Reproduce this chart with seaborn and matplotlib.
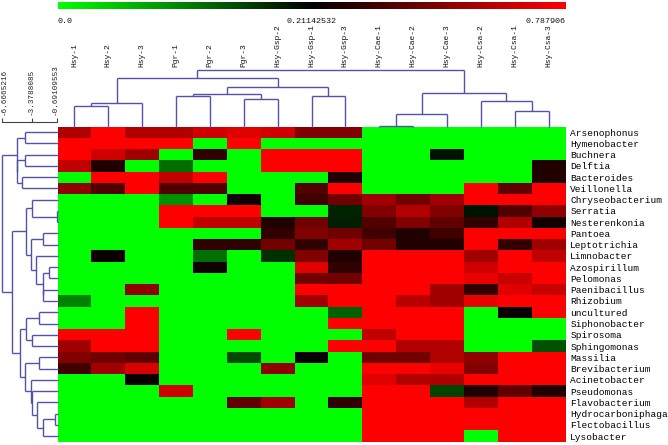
import numpy as np
import pandas as pd
import matplotlib
matplotlib.use('Agg')
import matplotlib.pyplot as plt
import matplotlib.transforms as mtransforms
import seaborn as sns
from matplotlib.colors import LinearSegmentedColormap, TwoSlopeNorm

samples = ['Hsy-1', 'Hsy-2', 'Hsy-3', 'Pgr-1', 'Pgr-2', 'Pgr-3', 'Hsy-Gsp-2', 'Hsy-Gsp-1',
           'Hsy-Gsp-3', 'Hsy-Cae-1', 'Hsy-Cae-2', 'Hsy-Cae-3', 'Hsy-Csa-2', 'Hsy-Csa-1', 'Hsy-Csa-3']

genera = ['Arsenophonus', 'Hymenobacter', 'Buchnera', 'Delftia', 'Bacteroides', 'Veillonella',
          'Chryseobacterium', 'Serratia', 'Nesterenkonia', 'Pantoea', 'Leptotrichia', 'Limnobacter',
          'Azospirillum', 'Pelomonas', 'Paenibacillus', 'Rhizobium', 'uncultured', 'Siphonobacter',
          'Spirosoma', 'Sphingomonas', 'Massilia', 'Brevibacterium', 'Acinetobacter', 'Pseudomonas',
          'Flavobacterium', 'Hydrocarboniphaga', 'Flectobacillus', 'Lysobacter']

# relative abundance, rows in the order shown (already clustered)
values = [
    [0.609, 0.79, 0.609, 0.609, 0.682, 0.718, 0.682, 0.501, 0.501, 0, 0, 0, 0, 0, 0],
    [0.79, 0.79, 0.79, 0.79, 0, 0.79, 0, 0, 0, 0, 0, 0, 0, 0, 0],
    [0.79, 0.682, 0.573, 0, 0.32, 0, 0.79, 0.79, 0.79, 0, 0, 0.195, 0, 0, 0],
    [0.645, 0.284, 0, 0.119, 0, 0, 0.79, 0.79, 0.79, 0, 0, 0, 0, 0, 0.284],
    [0, 0.79, 0.79, 0.645, 0.79, 0, 0, 0, 0.284, 0, 0, 0, 0, 0, 0.284],
    [0.537, 0.392, 0.79, 0.392, 0.392, 0, 0, 0.392, 0.79, 0, 0, 0, 0.79, 0.428, 0.79],
    [0, 0, 0, 0.092, 0, 0.25, 0, 0.356, 0.465, 0.573, 0.465, 0.573, 0.79, 0.79, 0.79],
    [0, 0, 0, 0.79, 0.79, 0.79, 0, 0, 0.183, 0.501, 0.609, 0.501, 0.195, 0.392, 0.537],
    [0, 0, 0, 0.79, 0.645, 0.645, 0.284, 0.465, 0.185, 0.392, 0.501, 0.428, 0.32, 0.609, 0.25],
    [0, 0, 0, 0, 0, 0, 0.32, 0.501, 0.465, 0.356, 0.284, 0.356, 0.79, 0.79, 0.79],
    [0, 0, 0, 0, 0.32, 0.32, 0.465, 0.32, 0.573, 0.465, 0.284, 0.284, 0.79, 0.32, 0.573],
    [0, 0.23, 0, 0, 0.119, 0, 0.172, 0.501, 0.284, 0.79, 0.79, 0.79, 0.573, 0.79, 0.645],
    [0, 0, 0, 0, 0.25, 0, 0, 0.718, 0.32, 0.79, 0.79, 0.79, 0.682, 0.79, 0.79],
    [0, 0, 0, 0, 0, 0, 0, 0.465, 0.465, 0.79, 0.79, 0.79, 0.736, 0.664, 0.79],
    [0, 0, 0.537, 0, 0, 0, 0, 0.79, 0.79, 0.79, 0.79, 0.573, 0.32, 0.718, 0.664],
    [0.105, 0, 0, 0, 0, 0, 0, 0.573, 0.79, 0.79, 0.627, 0.573, 0.736, 0.79, 0.79],
    [0, 0, 0.79, 0, 0, 0, 0, 0, 0.132, 0.79, 0.79, 0.79, 0, 0.23, 0.79],
    [0, 0, 0.79, 0, 0, 0, 0, 0, 0.79, 0.79, 0.79, 0.79, 0, 0, 0],
    [0.79, 0.79, 0.79, 0, 0, 0.79, 0, 0, 0, 0.645, 0.79, 0.79, 0, 0, 0],
    [0.573, 0.79, 0.79, 0, 0, 0, 0, 0, 0.79, 0.79, 0.609, 0.609, 0, 0, 0.145],
    [0.501, 0.465, 0.428, 0, 0, 0.15, 0, 0.23, 0, 0.465, 0.465, 0.609, 0.537, 0.79, 0.79],
    [0.356, 0.573, 0.70, 0, 0, 0, 0.537, 0, 0, 0.79, 0.79, 0.736, 0.501, 0.79, 0.79],
    [0, 0, 0.23, 0, 0, 0, 0, 0, 0, 0.718, 0.609, 0.609, 0.79, 0.79, 0.79],
    [0, 0, 0, 0.682, 0, 0, 0, 0, 0, 0.79, 0.79, 0.155, 0.284, 0.428, 0.284],
    [0, 0, 0, 0, 0, 0.428, 0.573, 0, 0.32, 0.79, 0.79, 0.79, 0.609, 0.79, 0.79],
    [0, 0, 0, 0, 0, 0, 0, 0, 0, 0.79, 0.79, 0.79, 0.79, 0.79, 0.79],
    [0, 0, 0, 0, 0, 0, 0, 0, 0, 0.79, 0.79, 0.79, 0.79, 0.79, 0.79],
    [0, 0, 0, 0, 0, 0, 0, 0, 0, 0.79, 0.79, 0.79, 0, 0.79, 0.79],
]

cbar_ticks = [0.0, 0.21142532, 0.787906]
cbar_labels = ['0.0', '0.21142532', '0.787906']

# column tree: (child a, child b, height); new clusters numbered from 15
col_links = [
    (0, 1, 21.0), (15, 2, 23.4), (3, 4, 31.0), (5, 6, 27.4), (17, 18, 33.0),
    (7, 8, 31.0), (19, 20, 40.0), (16, 21, 48.4), (9, 10, 1.0), (23, 11, 13.0),
    (13, 14, 15.7), (12, 25, 25.7), (24, 26, 34.0), (22, 27, 56.7),
]

# row tree on the scale shown at top left; new clusters numbered from 28
row_links = [
    (0, 1, -4.163), (2, 3, -4.163), (4, 5, -4.453), (29, 30, -4.990), (28, 31, -5.055),
    (7, 8, -0.756), (6, 33, -3.378), (9, 10, -2.196), (12, 13, -1.551), (14, 15, -2.196),
    (36, 37, -2.260), (11, 38, -2.980), (35, 39, -3.518), (34, 40, -4.055), (16, 17, -2.658),
    (18, 19, -3.378), (42, 43, -4.055), (20, 21, -2.626), (25, 26, -0.938), (46, 27, -2.196),
    (24, 47, -2.905), (23, 48, -3.378), (22, 49, -3.550), (45, 50, -4.163), (44, 51, -4.700),
    (41, 52, -5.592), (32, 53, -6.6665216),
]
row_scale = [-6.6665216, -3.3788085, -0.69109553]
row_scale_labels = ['-6.6665216', '-3.3788085', '-0.69109553']


def dendro_segments(links, n, base):
    pos = {i: i + 0.5 for i in range(n)}
    hgt = {i: base for i in range(n)}
    segs = []
    for k, (a, b, h) in enumerate(links):
        segs.append(([pos[a], pos[a]], [hgt[a], h]))
        segs.append(([pos[a], pos[b]], [h, h]))
        segs.append(([pos[b], pos[b]], [h, hgt[b]]))
        pos[n + k] = (pos[a] + pos[b]) / 2
        hgt[n + k] = h
    return segs


sns.set_theme(style='white')
plt.rcParams['font.family'] = ['Liberation Mono', 'DejaVu Sans']

W, H = 668, 445
fig = plt.figure(figsize=(W / 100, H / 100), dpi=100)


def px_axes(x0, y0, x1, y1):
    return fig.add_axes([x0 / W, 1 - y1 / H, (x1 - x0) / W, (y1 - y0) / H])


ax = px_axes(57.5, 126.5, 565.5, 441.7)
cax = px_axes(57.7, 1.7, 565.5, 9.3)
ax_col = px_axes(57.5, 68, 565.5, 126.5)
ax_row = px_axes(0, 126.5, 57.5, 441.7)

df = pd.DataFrame(values, index=genera, columns=samples)
cmap = LinearSegmentedColormap.from_list('gkr', ['#00ff00', '#000000', '#ff0000'])
norm = TwoSlopeNorm(vmin=0.0, vcenter=0.21142532, vmax=0.787906)

sns.heatmap(df, ax=ax, cmap=cmap, norm=norm, cbar_ax=cax,
            cbar_kws={'orientation': 'horizontal'},
            xticklabels=False, yticklabels=True, linewidths=0)
ax.yaxis.tick_right()
ax.tick_params(axis='y', length=0, pad=3.5, labelsize=6.8, rotation=0, colors='#000000')
ax.set_xlabel('')
ax.set_ylabel('')

cbar = ax.collections[0].colorbar
cbar.set_ticks(cbar_ticks)
cbar.set_ticklabels(cbar_labels)
cbar.outline.set_visible(False)
cax.tick_params(length=0, pad=6, labelsize=6, colors='#111111')
tl = cax.get_xticklabels()
tl[0].set_ha('left')
tl[-1].set_ha('right')

line_col = '#5252a6'

# column dendrogram
for xs, ys in dendro_segments(col_links, len(samples), 0.0):
    ax_col.plot(xs, ys, color=line_col, lw=1.0, clip_on=False, solid_capstyle='butt')
ax_col.set_xlim(0, len(samples))
ax_col.set_ylim(0, 58.5)
ax_col.xaxis.tick_top()
ax_col.set_xticks(np.arange(len(samples)) + 0.5)
ax_col.set_xticklabels(samples)
ax_col.tick_params(axis='x', length=0, pad=0.5, labelrotation=90, labelsize=5.8, colors='#111111')
ax_col.set_yticks([])
for s in ax_col.spines.values():
    s.set_visible(False)

# row dendrogram
lo, hi = -6.849, -0.6695
for hs, ps in dendro_segments(row_links, len(genera), hi):
    ax_row.plot(ps, hs, color=line_col, lw=1.0, clip_on=False, solid_capstyle='butt')
ax_row.set_xlim(lo, hi)
ax_row.set_ylim(len(genera), 0)
ax_row.set_yticks([])
ax_row.xaxis.tick_top()
ax_row.set_xticks(row_scale)
ax_row.set_xticklabels(row_scale_labels)
ax_row.tick_params(axis='x', direction='out', length=3, width=0.8, pad=2.5, color='#444444',
                   labelrotation=90, labelsize=5.5, labelcolor='#222222')
for name, s in ax_row.spines.items():
    s.set_visible(name == 'top')
ax_row.spines['top'].set_bounds(row_scale[0], row_scale[-1])
ax_row.spines['top'].set_position(('outward', 3))
ax_row.spines['top'].set_color('#444444')
ax_row.spines['top'].set_linewidth(0.8)

# nudge the scale labels like the reference (first one off the edge)
shifts = [2.5, -1.0, -2.0]
for lab, dx in zip(ax_row.get_xticklabels(which='major'), shifts):
    lab.set_transform(lab.get_transform() + mtransforms.ScaledTranslation(dx / 100, 0, fig.dpi_scale_trans))

fig.savefig('out.png', dpi=100)
